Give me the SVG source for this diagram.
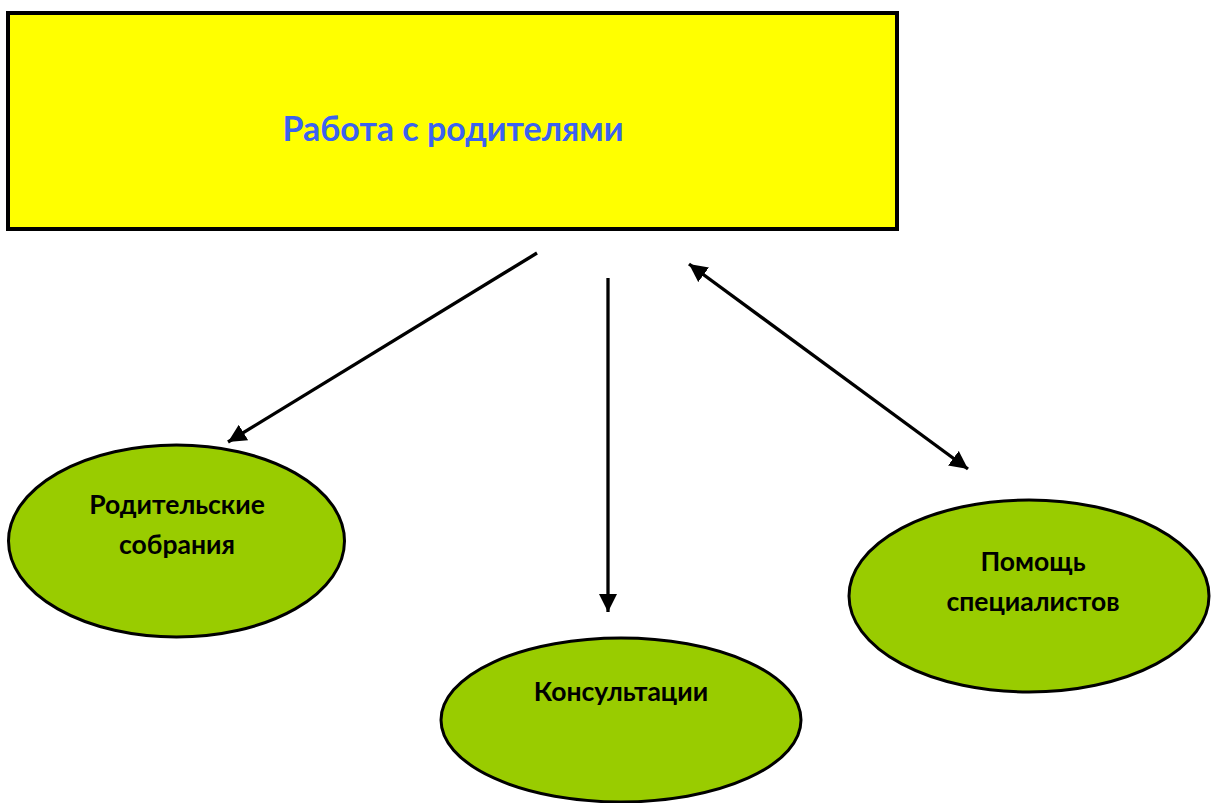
<svg xmlns="http://www.w3.org/2000/svg" width="1211" height="803" viewBox="0 0 1211 803">
<defs>
<marker id="ah" viewBox="0 0 10 10" refX="10" refY="5" markerWidth="5.5" markerHeight="5.5" orient="auto-start-reverse" markerUnits="strokeWidth">
<path d="M0,0 L10,5 L0,10 Z" fill="#000"/>
</marker>
<style>
.lbl{font-family:Lato,"Open Sans","Liberation Sans",sans-serif;font-weight:bold;fill:#000;text-anchor:middle}
.ell{fill:#99CC00;stroke:#000;stroke-width:3}
.con{stroke:#000;stroke-width:3.3;fill:none}
</style>
</defs>
<rect width="1211" height="803" fill="#fff"/>
<g id="main">
<rect x="8" y="13" width="889" height="216" fill="#FFFF00" stroke="#000" stroke-width="4"/>
<text x="453" y="141" class="lbl" style="fill:#3B62F0;font-size:34px">Работа с родителями</text>
</g>
<g id="n1">
<ellipse cx="176.5" cy="541" rx="168" ry="96" class="ell"/>
<text x="177" y="514" class="lbl" font-size="26.5">Родительские</text>
<text x="177" y="554" class="lbl" font-size="26.5">собрания</text>
</g>
<g id="n2">
<ellipse cx="621" cy="720" rx="180" ry="82" class="ell"/>
<text x="621" y="701" class="lbl" font-size="26.5">Консультации</text>
</g>
<g id="n3">
<ellipse cx="1029" cy="596" rx="180" ry="96" class="ell"/>
<text x="1033" y="571" class="lbl" font-size="26.5">Помощь</text>
<text x="1033" y="611" class="lbl" font-size="26.5">специалистов</text>
</g>
<g id="connectors">
<line x1="537" y1="253" x2="228" y2="442" class="con" marker-end="url(#ah)"/>
<line x1="608" y1="278" x2="608" y2="612" class="con" marker-end="url(#ah)"/>
<line x1="689" y1="264" x2="968" y2="469" class="con" marker-start="url(#ah)" marker-end="url(#ah)"/>
</g>
</svg>
